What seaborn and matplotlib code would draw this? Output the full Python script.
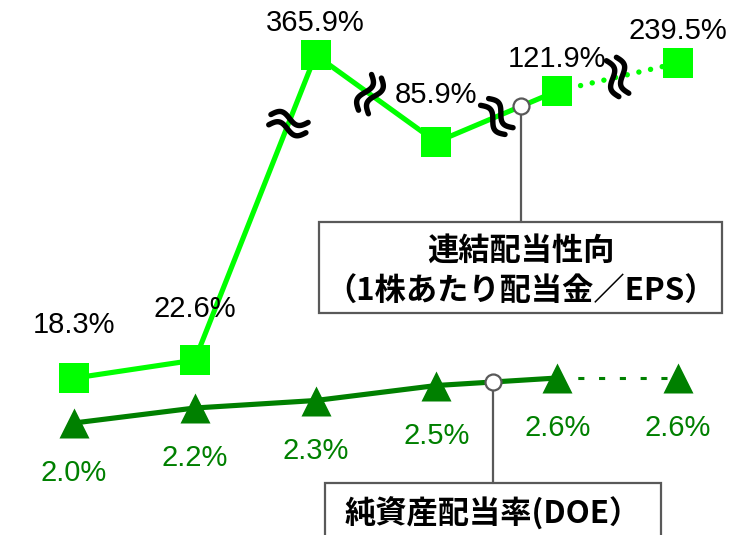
import numpy as np
import pandas as pd
import matplotlib
matplotlib.use("Agg")
import matplotlib.pyplot as plt
from matplotlib.lines import Line2D
from matplotlib.patches import Rectangle
import seaborn as sns

# ---------------------------------------------------------------- data
periods = [0, 1, 2, 3, 4, 5]                                # last period = forecast
payout_ratio = [18.3, 22.6, 365.9, 85.9, 121.9, 239.5]      # 連結配当性向 (%)
doe_ratio = [2.0, 2.2, 2.3, 2.5, 2.6, 2.6]                  # 純資産配当率 (%)
payout_title = ["連結配当性向", "（1株あたり配当金／EPS）"]
doe_title = "純資産配当率(DOE）"

# ---------------------------------------------------------------- style
W, H = 733, 535
LIME = "#00FF00"
DARK = "#008000"
GRAY = "#595959"
PT = 72 / 100  # points per pixel at dpi 100

sns.set_theme(style="white")
plt.rcParams["font.family"] = ["Liberation Sans", "Noto Sans CJK JP", "DejaVu Sans"]
CJK = ["Noto Sans CJK JP", "DejaVu Sans"]

# broken value axis for the payout ratio: a piecewise-linear scale whose
# steep section covers the low range and compressed sections the high range
AXIS_KNOTS = [-19.05, 0, 25, 80, 130, 200, 400, 1234]
AXIS_LEVEL = [0, 80, 185, 384.6, 455.5, 469.5, 482.2, 535]


def fwd(v):
    return np.interp(v, AXIS_KNOTS, AXIS_LEVEL)


def inv(h):
    return np.interp(h, AXIS_LEVEL, AXIS_KNOTS)


df = pd.DataFrame({"period": periods, "payout": payout_ratio, "doe": doe_ratio})
actual = df.iloc[:5]
plan = df.iloc[4:]

fig = plt.figure(figsize=(W / 100, H / 100), dpi=100)
ax = fig.add_axes([0, 0, 1, 1])
ax.set_yscale("function", functions=(fwd, inv))
ax2 = ax.twinx()

# payout ratio
sns.lineplot(data=actual, x="period", y="payout", ax=ax, color=LIME, lw=3.7, zorder=2)
sns.lineplot(data=plan, x="period", y="payout", ax=ax, color=LIME, lw=3.9,
             linestyle=(0, (0.01, 2.2)), dash_capstyle="round", zorder=2)
sns.scatterplot(data=df, x="period", y="payout", ax=ax, marker="s", s=(30 * PT) ** 2,
                color=LIME, linewidth=0, zorder=3)

# DOE
sns.lineplot(data=actual, x="period", y="doe", ax=ax2, color=DARK, lw=3.7, zorder=2)
sns.lineplot(data=plan, x="period", y="doe", ax=ax2, color=DARK, lw=2.2,
             linestyle=(0, (2.0, 4.8)), zorder=2)
sns.scatterplot(data=df, x="period", y="doe", ax=ax2, marker="^", s=(30 * PT) ** 2,
                color=DARK, linewidth=0, zorder=3)

ax.set_xlim(-0.6126, 5.455)
ax.set_ylim(AXIS_KNOTS[0], AXIS_KNOTS[-1])
ax2.set_ylim(0.5067, 7.64)
for a in (ax, ax2):
    a.set_axis_off()

# value labels
payout_lift = [32.4, 31.0, 17.3, 28.1, 17.3, 17.3]
for x, v, lift in zip(periods, payout_ratio, payout_lift):
    ax.annotate(f"{v:.1f}%", (x, v), xytext=(0, lift), textcoords="offset points",
                ha="center", va="baseline", fontsize=21, color="black")
for x, v in zip(periods, doe_ratio):
    ax2.annotate(f"{v:.1f}%", (x, v), xytext=(0, -41.8), textcoords="offset points",
                 ha="center", va="baseline", fontsize=21, color=DARK)

to_fig = fig.transFigure.inverted()


def seg_point(axis, values, i, t):
    p0 = axis.transData.transform((periods[i], values[i]))
    p1 = axis.transData.transform((periods[i + 1], values[i + 1]))
    return p0 + t * (p1 - p0)


# break symbols on the payout line
def break_mark(center, angle, length=38, amp=5.0, gap=10.5):
    th = np.deg2rad(angle)
    u = np.linspace(0, 1, 80)
    for off in (-gap / 2, gap / 2):
        x = (u - 0.5) * length
        y = amp * np.sin(2 * np.pi * u) + off
        xr = center[0] + x * np.cos(th) - y * np.sin(th)
        yr = center[1] + x * np.sin(th) + y * np.cos(th)
        pts = to_fig.transform(np.column_stack([xr, yr]))
        fig.add_artist(Line2D(pts[:, 0], pts[:, 1], transform=fig.transFigure,
                              color="black", lw=3.9, solid_capstyle="round", zorder=6))


for seg, t, angle in [(1, 0.775, -12), (2, 0.45, 70), (3, 0.5, -50), (4, 0.5, -71)]:
    break_mark(seg_point(ax, payout_ratio, seg, t), angle)


def px(x, y_top):
    return x / W, 1 - y_top / H


# callout boxes with leader lines
def callout(anchor, box, lines, line_y):
    x0, y0 = px(box[0], box[3])
    x1, y1 = px(box[2], box[1])
    fig.add_artist(Rectangle((x0, y0), x1 - x0, y1 - y0, transform=fig.transFigure,
                             facecolor="white", edgecolor=GRAY, lw=1.6, zorder=4))
    ax_, ay_ = to_fig.transform(anchor)
    fig.add_artist(Line2D([ax_, ax_], [ay_, y1], transform=fig.transFigure,
                          color=GRAY, lw=1.6, zorder=4))
    fig.add_artist(Line2D([ax_], [ay_], transform=fig.transFigure, marker="o",
                          ms=11.5, mfc="white", mec=GRAY, mew=1.6, zorder=7))
    cx = (x0 + x1) / 2
    for s, yt in zip(lines, line_y):
        fig.text(cx, px(0, yt)[1], s, ha="center", va="center", fontsize=22.5,
                 fontweight="bold", family=CJK, color="black", zorder=8)


callout(seg_point(ax, payout_ratio, 3, 0.70), (319, 222, 722, 313), payout_title, [251, 292])
callout(seg_point(ax2, doe_ratio, 3, 0.47), (325, 483, 661, 560), [doe_title], [514])

fig.savefig("out.png", dpi=100)
